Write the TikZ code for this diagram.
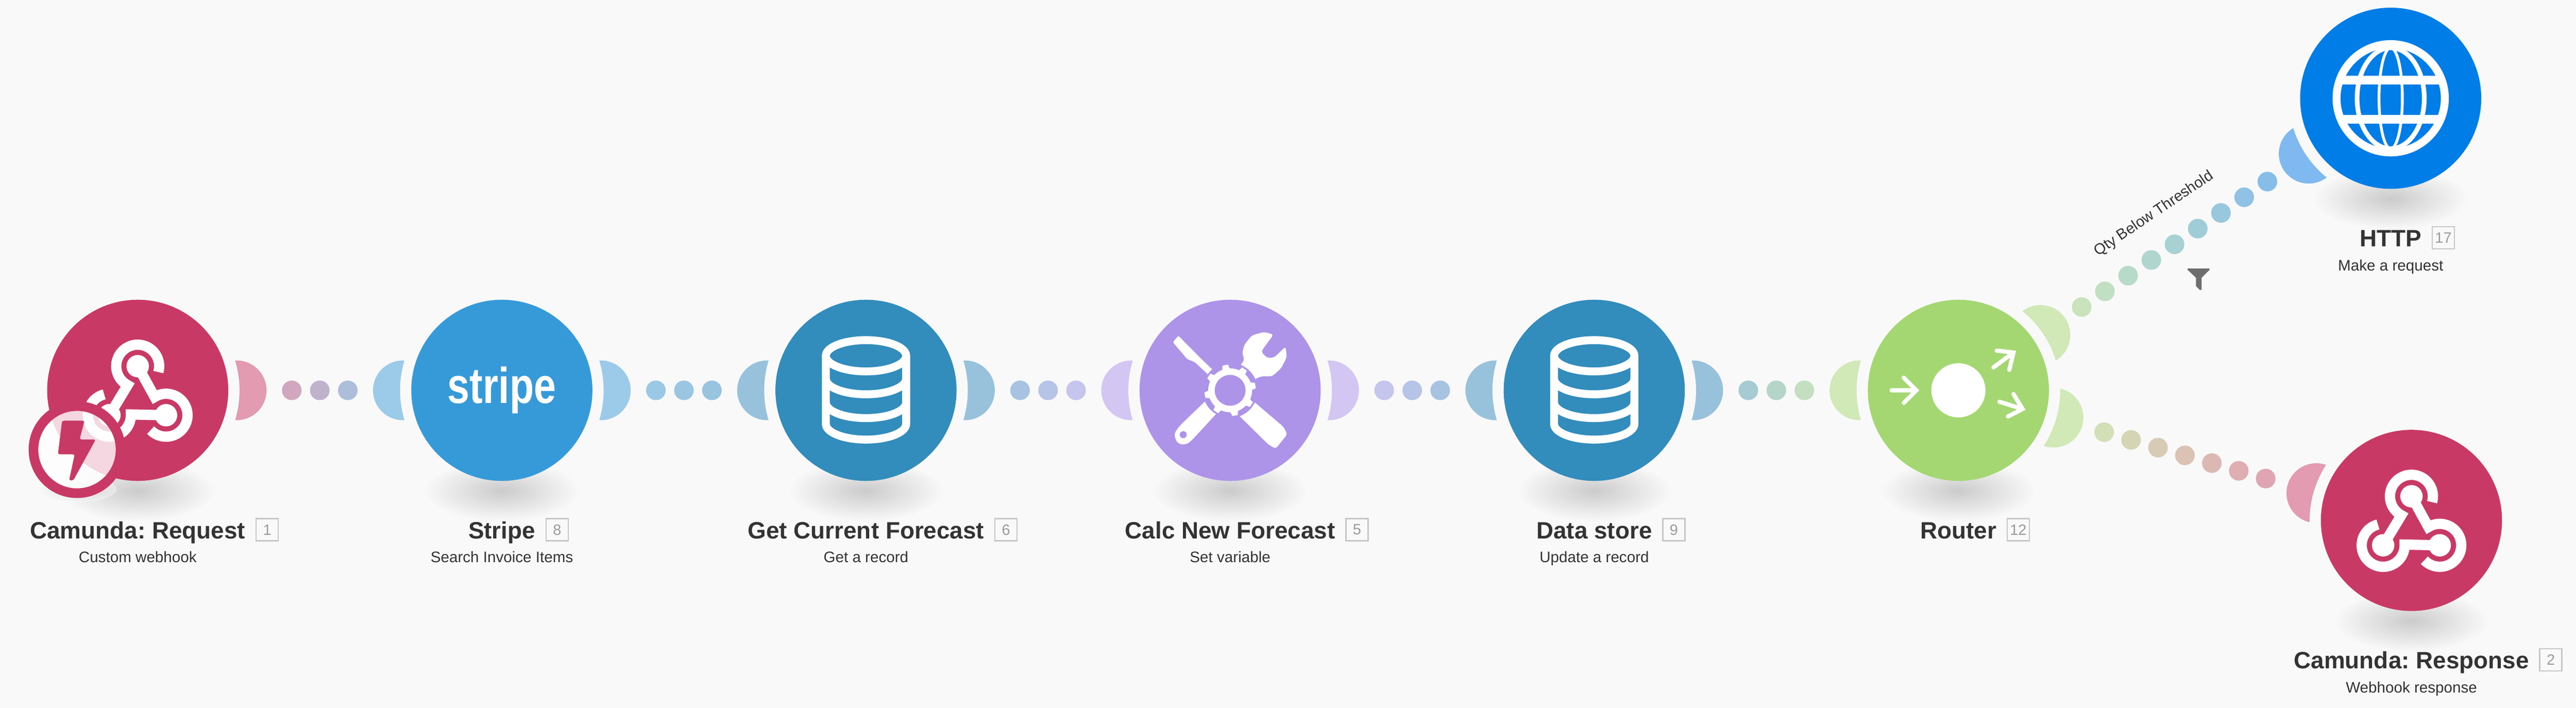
\documentclass[tikz,border=0pt]{standalone}
\usepackage{fontspec}
\setmainfont{Liberation Sans}
\usetikzlibrary{positioning,calc,backgrounds}
\definecolor{canvasgray}{HTML}{F9F9F9}
\definecolor{hookred}{HTML}{C83A65}
\definecolor{hookstub}{HTML}{E29BB1}
\definecolor{stripeblue}{HTML}{379AD8}
\definecolor{stripestub}{HTML}{9CCAE9}
\definecolor{dbblue}{HTML}{328CBC}
\definecolor{dbstub}{HTML}{98C2DB}
\definecolor{toolpurple}{HTML}{AD94E8}
\definecolor{toolstub}{HTML}{D4C6F3}
\definecolor{routergreen}{HTML}{A4D772}
\definecolor{routerstub}{HTML}{D1E8B7}
\definecolor{httpblue}{HTML}{007DE6}
\definecolor{httpstub}{HTML}{7FB9EF}
\definecolor{titleink}{HTML}{333333}
\definecolor{numink}{HTML}{9A9A9A}
\definecolor{numframe}{HTML}{C6C6C6}
\definecolor{funnelgray}{HTML}{6E6E6E}
\definecolor{shadowcore}{HTML}{CBCBCB}
\definecolor{shadowmid}{HTML}{E3E3E3}
\pgfdeclareradialshading{modshade}{\pgfpointorigin}{color(0bp)=(shadowcore); color(13bp)=(shadowmid); color(25bp)=(canvasgray); color(50bp)=(canvasgray)}
\tikzstyle{module}=[circle, minimum size=3.88cm, inner sep=0pt, outer sep=0pt, text=white]
\tikzstyle{modtitle}=[inner sep=0pt, outer sep=0pt, text height=.38cm, text depth=0pt, text=titleink, font=\fontsize{14.4pt}{16pt}\selectfont\bfseries]
\tikzstyle{modsub}=[inner sep=0pt, outer sep=0pt, text height=.24cm, text depth=0pt, text=titleink, font=\fontsize{9.3pt}{11pt}\selectfont]
\tikzstyle{modnum}=[draw=numframe, line width=.028cm, minimum size=.475cm, inner sep=0pt, outer sep=0pt, text=numink, font=\fontsize{9.1pt}{11pt}\selectfont]
\tikzstyle{badge}=[circle, draw=hookred, line width=.207cm, fill=white, fill opacity=.8, minimum size=1.866cm, inner sep=0pt]
\tikzstyle{linklabel}=[inner sep=0pt, text=titleink, font=\fontsize{9.2pt}{11pt}\selectfont]
\newcommand{\linkdots}[5]{
	\fill[#4] ($(#1.center)!2.12cm!(#2.center)$) circle (.64);
	\fill[#5] ($(#2.center)!2.12cm!(#1.center)$) circle (.64);
	\foreach \i in {-#3,...,#3}{
		\pgfmathsetmacro{\dotmix}{int(100*(\i+#3+1)/(2*#3+2))}
		\colorlet{dotcol}{#5!\dotmix!#4}
		\fill[dotcol] ($(#1.center)!.5!(#2.center)!\i*.6cm!(#2.center)$) circle (.21);
	}
}
\newcommand{\hookicon}[1]{
	\begin{scope}[shift={($(#1.center)+(0,-.183)$)}, white]
		\foreach \r in {0,120,240}{
			\begin{scope}[rotate=\r]
				\fill (0,.70) circle (.24);
				\draw[line width=.22cm] ($(.607,-.35)+(224:.46)$) arc (224:482:.46) -- (0,.70);
			\end{scope}
		}
	\end{scope}
}
\newcommand{\dbicon}[1]{
	\begin{scope}[shift={(#1.center)}, white, line width=.17cm]
		\draw (0,.74) ellipse (.86 and .335);
		\draw (-.86,.25) arc (180:360:.86 and .335);
		\draw (-.86,-.26) arc (180:360:.86 and .335);
		\draw (-.86,.74) -- (-.86,-.72) arc (180:360:.86 and .335) -- (.86,.74);
	\end{scope}
}
\newcommand{\toolsicon}[2]{
	\begin{scope}[shift={(#1.center)}]
		\fill[white, rounded corners=.03cm] (-1.11,1.17) -- (-1.225,1.03) -- (-.92,.67) -- (-.75,.60) -- (-.38,.25) -- (-.28,.35) -- (-.65,.705) -- cycle;
		\fill[white, rounded corners=.05cm] (.40,-.15) -- (1.14,-.78) -- (1.225,-.94) -- (.976,-1.25) -- (.82,-1.16) -- (.15,-.50) -- cycle;
		\fill[white, rounded corners=.06cm] (.93,1.196) -- (.73,1.25) -- (.47,1.18) -- (.306,.98) -- (.26,.80) -- (.306,.647) -- (.15,.45) -- (.45,.20) -- (.66,.30) -- (.90,.30) -- (1.09,.47) -- (1.215,.71) -- (1.187,.937) -- (.947,.705) -- (.80,.69) -- (.66,.826) -- cycle;
		\fill[white, rounded corners=.08cm] (-.50,-.20) -- (-1.09,-.77) -- (-1.206,-.94) -- (-1.13,-1.14) -- (-.95,-1.17) -- (-.82,-1.07) -- (-.25,-.45) -- cycle;
		\fill[#2] (-1.005,-.95) circle (.075);
		\fill[#2] (0,0) circle (.59);
		\fill[white] (0,0) circle (.47);
		\foreach \r in {0,45,...,315}{
			\fill[white, rotate=\r+11] (.42,-.09) -- (.55,-.06) -- (.55,.06) -- (.42,.09) -- cycle;
		}
		\fill[#2] (0,0) circle (.33);
	\end{scope}
}
\newcommand{\routericon}[1]{
	\begin{scope}[shift={(#1.center)}, white, line width=.09cm, line cap=round]
		\fill (0,0) circle (.58);
		\draw (-1.43,0) -- (-.90,0) (-1.17,.27) -- (-.90,0) -- (-1.17,-.27);
		\draw (.75,.49) -- (1.18,.81) (.82,.85) -- (1.18,.81) -- (1.09,.44);
		\draw (.88,-.245) -- (1.375,-.40) (1.18,-.08) -- (1.375,-.40) -- (1.06,-.56);
	\end{scope}
}
\newcommand{\globeicon}[1]{
	\begin{scope}[shift={(#1.center)}, white]
		\draw[line width=.17cm] (0,0) circle (1.16);
		\begin{scope}
			\clip (0,0) circle (1.16);
			\fill (-1.2,.30) rectangle (1.2,.48);
			\fill (-1.2,-.54) rectangle (1.2,-.36);
		\end{scope}
		\draw[line width=.06cm] (0,0) ellipse (.25 and 1.08);
		\draw[line width=.10cm] (0,0) ellipse (.72 and 1.08);
	\end{scope}
}
\begin{document}
\frenchspacing
\begin{tikzpicture}
	\useasboundingbox (0,0) rectangle (55.18,15.16);
	\node[module, fill=hookred] (request) at (2.95,6.80) {};
	\node[module, fill=stripeblue] (stripe) at (10.75,6.80) {\fontsize{30.7pt}{32pt}\selectfont\bfseries\scalebox{.79}[1]{stripe}};
	\node[module, fill=dbblue] (getforecast) at (18.55,6.80) {};
	\node[module, fill=toolpurple] (calcforecast) at (26.35,6.80) {};
	\node[module, fill=dbblue] (datastore) at (34.15,6.80) {};
	\node[module, fill=routergreen] (router) at (41.95,6.80) {};
	\node[module, fill=httpblue] (http) at (51.21,13.055) {};
	\node[module, fill=hookred] (response) at (51.655,4.014) {};
	\begin{scope}[on background layer]
		\fill[canvasgray] (0,0) rectangle (55.18,15.16);
		\linkdots{request}{stripe}{1}{hookstub}{stripestub}
		\linkdots{stripe}{getforecast}{1}{stripestub}{dbstub}
		\linkdots{getforecast}{calcforecast}{1}{dbstub}{toolstub}
		\linkdots{calcforecast}{datastore}{1}{toolstub}{dbstub}
		\linkdots{datastore}{router}{1}{dbstub}{routerstub}
		\linkdots{router}{http}{4}{routerstub}{httpstub}
		\linkdots{router}{response}{3}{routerstub}{hookstub}
		\foreach \m in {request,stripe,getforecast,calcforecast,datastore,router,http,response}{
			\fill[canvasgray] (\m.center) circle (2.18);
			\shade[shading=modshade] ($(\m.center)+(0,-2.15)$) ellipse (1.66 and .66);
		}
		\shade[shading=modshade, opacity=.45] (1.65,4.68) ellipse (.85 and .28);
	\end{scope}
	\hookicon{request}
	\dbicon{getforecast}
	\toolsicon{calcforecast}{toolpurple}
	\dbicon{datastore}
	\routericon{router}
	\globeicon{http}
	\hookicon{response}
	\node[badge] (trigger) at (1.65,5.53) {};
	\fill[hookred, rounded corners=.04cm, shift={(trigger.center)}] (-.32,.62) -- (.16,.62) -- (.055,.217) -- (.40,.217) -- (-.08,-.66) -- (-.17,-.66) -- (-.05,-.10) -- (-.41,-.10) -- cycle;
	\node[modtitle, below=.856cm of request] (request-title) {Camunda: Request};
	\node[modnum, right=.23cm of request-title] (request-num) {1};
	\node[modsub, below=.274cm of request-title] (request-sub) {Custom webhook};
	\node[modtitle, below=.856cm of stripe] (stripe-title) {Stripe};
	\node[modnum, right=.23cm of stripe-title] (stripe-num) {8};
	\node[modsub, below=.274cm of stripe-title] (stripe-sub) {Search Invoice Items};
	\node[modtitle, below=.856cm of getforecast] (getforecast-title) {Get Current Forecast};
	\node[modnum, right=.23cm of getforecast-title] (getforecast-num) {6};
	\node[modsub, below=.274cm of getforecast-title] (getforecast-sub) {Get a record};
	\node[modtitle, below=.856cm of calcforecast] (calcforecast-title) {Calc New Forecast};
	\node[modnum, right=.23cm of calcforecast-title] (calcforecast-num) {5};
	\node[modsub, below=.274cm of calcforecast-title] (calcforecast-sub) {Set variable};
	\node[modtitle, below=.856cm of datastore] (datastore-title) {Data store};
	\node[modnum, right=.23cm of datastore-title] (datastore-num) {9};
	\node[modsub, below=.274cm of datastore-title] (datastore-sub) {Update a record};
	\node[modtitle, below=.856cm of router] (router-title) {Router};
	\node[modnum, right=.23cm of router-title] (router-num) {12};
	\node[modtitle, below=.856cm of http] (http-title) {HTTP};
	\node[modnum, right=.23cm of http-title] (http-num) {17};
	\node[modsub, below=.274cm of http-title] (http-sub) {Make a request};
	\node[modtitle, below=.856cm of response] (response-title) {Camunda: Response};
	\node[modnum, right=.23cm of response-title] (response-num) {2};
	\node[modsub, below=.274cm of response-title] (response-sub) {Webhook response};
	\node[linklabel, rotate=34] (threshold) at ($(router.center)!.5!(http.center)+(-.44,.65)$) {Qty Below Threshold};
	\fill[funnelgray] (46.86,9.41) -- (47.33,9.41) -- (47.33,9.38) -- (47.16,9.21) -- (47.16,8.95) -- (47.12,8.95) -- (47.04,9.03) -- (47.04,9.21) -- (46.86,9.38) -- cycle;
\end{tikzpicture}
\end{document}
